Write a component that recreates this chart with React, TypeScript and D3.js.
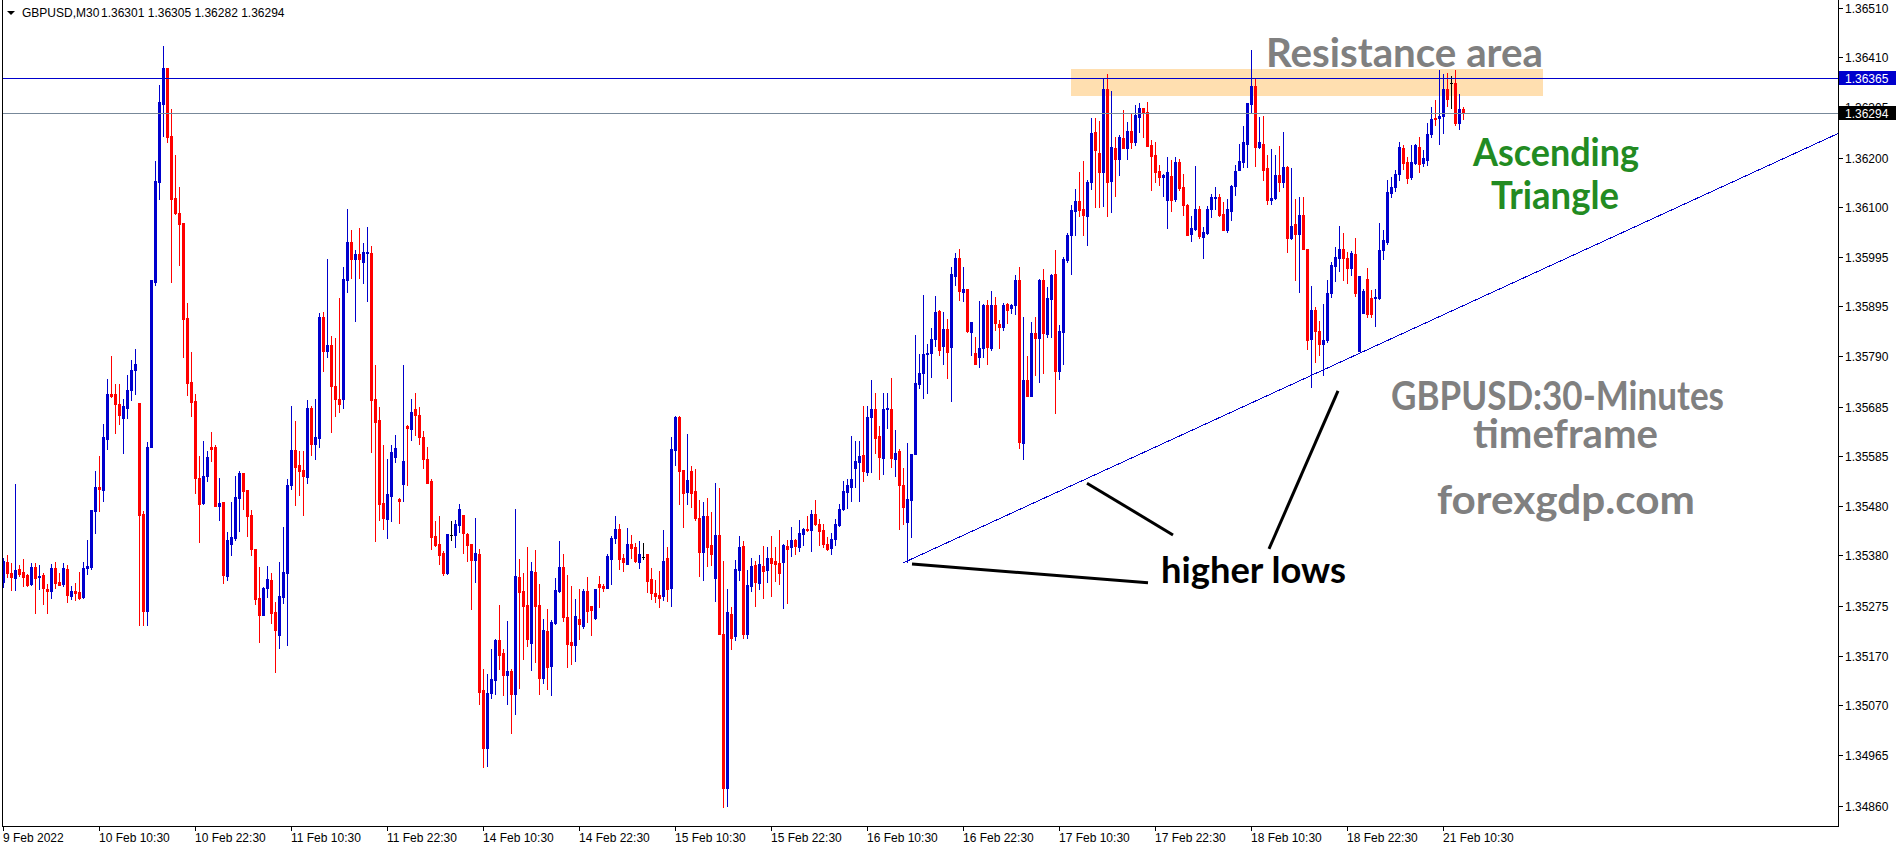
import React from 'react';
import * as d3 from 'd3';

// GBPUSD M30 candles, prices in points (price x 100000), bar 0 = 9 Feb 22:30
const OPEN_PTS = [
  135324,135366,135343,135332,135350,135344,135338,135320,135354,135335,
  135338,135309,135305,135353,135323,135320,135351,135295,135305,135303,
  135293,135353,135354,135471,135520,135514,135620,135712,135712,135692,
  135663,135684,135720,135761,135694,135465,135263,135602,135945,136151,
  136312,136386,136245,136117,136086,136066,135869,135737,135698,135538,
  135487,135542,135602,135602,135481,135489,135336,135403,135414,135497,
  135550,135514,135462,135391,135290,135255,135312,135327,135262,135214,
  135292,135342,135524,135597,135565,135555,135541,135683,135610,135622,
  135871,135801,135814,135729,135703,135703,135949,136026,135992,136002,
  135986,136004,136004,135702,135658,135488,135454,135502,135582,135495,
  135527,135646,135640,135681,135670,135623,135579,135532,135418,135403,
  135383,135342,135421,135421,135442,135462,135422,135403,135369,135381,
  135100,134981,135094,135121,135203,135177,135131,135139,135092,135333,
  135305,135276,135198,135345,135276,135125,135222,135150,135238,135305,
  135355,135252,135200,135194,135248,135233,135305,135274,135249,135320,
  135316,135312,135371,135415,135433,135374,135360,135403,135395,135365,
  135376,135381,135330,135301,135296,135295,135374,135312,135597,135664,
  135555,135510,135553,135512,135457,135386,135460,135400,135331,135420,
  135216,134898,135258,135212,135349,135398,135217,135316,135358,135322,
  135356,135348,135374,135367,135362,135365,135398,135396,135410,135396,
  135422,135434,135431,135464,135444,135431,135402,135393,135413,135441,
  135474,135510,135520,135560,135572,135586,135551,135664,135682,135625,
  135580,135682,135682,135579,135595,135524,135448,135494,135588,135734,
  135755,135795,135797,135827,135884,135811,135846,135810,135957,135994,
  135923,135929,135841,135798,135788,135808,135896,135808,135897,135858,
  135850,135899,135890,135896,135949,135612,135741,135708,135839,135828,
  135949,135837,135908,135961,135759,135841,135990,136042,136091,136111,
  136094,136081,136151,136254,136211,136172,136343,136152,136221,136198,
  136242,136221,136256,136234,136285,136303,136296,136227,136206,136173,
  136161,136113,136163,136115,136192,136141,136104,136043,136053,136094,
  136037,136045,136094,136118,136120,136084,136051,136091,136143,136175,
  136192,136230,136313,136349,136223,136230,136180,136114,136118,136165,
  136151,136182,136034,136063,136044,136082,136013,135826,135887,135843,
  135815,135824,135921,135977,135994,136013,135994,135972,136001,135802,
  135880,135951,135910,135910,135910,136011,136027,136128,136141,136168,
  136222,136192,136161,136190,136223,136190,136197,136251,136284,136284,
  136287,136344,136356,136356,136272,136301,
];
const HIGH_PTS = [
  135373,135379,135362,135526,135358,135371,135340,135362,135362,135358,
  135343,135320,135361,135365,135343,135362,135358,135316,135321,135344,
  135366,135410,135473,135553,135584,135651,135743,135792,135734,135733,
  135702,135752,135782,135805,135694,135471,135614,135948,136195,136352,
  136433,136386,136301,136207,136140,136066,135901,135800,135712,135584,
  135616,135594,135633,135606,135539,135489,135428,135489,135542,135553,
  135550,135514,135472,135391,135355,135314,135357,135342,135282,135365,
  135438,135537,135688,135656,135594,135594,135699,135688,135703,135879,
  135881,135992,135832,135828,135911,135976,136094,136052,136010,136055,
  136024,136057,136018,135772,135686,135607,135578,135607,135628,135498,
  135772,135648,135703,135714,135686,135635,135602,135537,135450,135460,
  135387,135422,135450,135452,135484,135462,135424,135403,135456,135392,
  135144,135134,135185,135205,135276,135185,135243,135143,135474,135371,
  135342,135396,135365,135389,135319,135247,135267,135245,135331,135409,
  135381,135338,135316,135288,135310,135309,135334,135274,135309,135336,
  135320,135381,135418,135460,135444,135381,135436,135420,135405,135409,
  135405,135381,135353,135327,135346,135431,135396,135624,135667,135667,
  135555,135629,135563,135557,135493,135489,135498,135469,135529,135518,
  135367,135309,135272,135369,135418,135408,135348,135374,135367,135379,
  135398,135396,135419,135396,135431,135402,135410,135438,135413,135451,
  135436,135460,135472,135493,135453,135443,135417,135425,135453,135484,
  135532,135536,135626,135615,135615,135687,135687,135741,135715,135646,
  135715,135715,135746,135637,135598,135560,135612,135588,135834,135795,
  135917,135815,135848,135915,135887,135881,135867,135975,136003,136012,
  135975,135930,135861,135830,135904,135898,135906,135925,135913,135865,
  135901,135901,135899,135959,135974,135872,135790,135861,135872,135951,
  135970,135934,135961,136010,135855,135996,136045,136104,136137,136172,
  136194,136154,136283,136283,136276,136365,136374,136340,136244,136247,
  136299,136275,136294,136309,136314,136304,136316,136237,136234,136185,
  136168,136203,136196,136203,136199,136168,136106,136081,136183,136101,
  136058,136101,136125,136141,136127,136110,136116,136144,136185,136229,
  136266,136314,136423,136366,136285,136287,136206,136219,136206,136225,
  136254,136183,136179,136116,136120,136120,136013,135935,135892,135864,
  135898,135948,135986,136017,136059,136045,136006,136008,136034,135956,
  135930,135972,135928,135930,136065,136052,136154,136161,136176,136234,
  136227,136203,136227,136230,136244,136216,136273,136306,136321,136382,
  136375,136376,136371,136382,136332,136305,
];
const LOW_PTS = [
  135313,135334,135308,135308,135336,135316,135316,135317,135260,135309,
  135279,135260,135291,135312,135317,135316,135283,135289,135287,135289,
  135291,135340,135350,135424,135471,135492,135598,135706,135631,135651,
  135590,135663,135700,135712,135234,135234,135234,135602,135937,136116,
  136245,136234,135945,136084,135980,135788,135711,135667,135508,135407,
  135485,135532,135573,135481,135451,135322,135328,135379,135410,135430,
  135475,135418,135379,135278,135199,135255,135292,135238,135138,135187,
  135280,135193,135515,135483,135503,135462,135529,135586,135577,135602,
  135760,135789,135634,135667,135676,135684,135923,135953,135863,135953,
  135942,135905,135593,135408,135452,135433,135415,135450,135571,135446,
  135491,135524,135618,135628,135608,135559,135528,135392,135399,135361,
  135339,135341,135411,135396,135426,135383,135367,135268,135324,135072,
  134942,134944,135083,135093,135143,135089,135071,135012,135050,135105,
  135164,135192,135141,135158,135092,135114,135102,135089,135236,135303,
  135243,135148,135155,135161,135205,135229,135241,135215,135248,135272,
  135305,135312,135319,135405,135350,135347,135360,135374,135364,135353,
  135372,135303,135289,135283,135272,135287,135285,135274,135566,135484,
  135438,135484,135478,135451,135336,135327,135357,135358,135285,135216,
  134859,134861,135186,135203,135327,135207,135207,135305,135274,135310,
  135291,135324,135295,135326,135320,135270,135280,135378,135382,135387,
  135400,135429,135388,135441,135400,135395,135389,135381,135400,135440,
  135472,135477,135491,135520,135491,135533,135544,135551,135591,135536,
  135546,135643,135562,135543,135433,135443,135364,135416,135588,135725,
  135704,135715,135748,135811,135793,135775,135746,135697,135937,135906,
  135905,135841,135793,135774,135768,135789,135775,135803,135844,135808,
  135844,135859,135879,135877,135600,135577,135708,135708,135751,135737,
  135755,135830,135830,135673,135743,135775,135986,135961,136042,136080,
  136041,136020,136137,136099,136099,136101,136081,136089,136122,136165,
  136221,136199,136221,136227,136254,136244,136225,136134,136151,136144,
  136121,136056,136090,136111,136135,136082,136042,136028,136051,136034,
  135994,136044,136079,136094,136080,136051,136048,136072,136123,136175,
  136182,136182,136294,136183,136222,136154,136105,136106,136116,136132,
  136141,136006,136032,135948,135923,136013,135806,135727,135779,135793,
  135751,135820,135913,135946,135966,135949,135941,135958,135915,135802,
  135879,135872,135872,135853,135908,135992,136023,136120,136132,136154,
  136177,136149,136158,136189,136172,136183,136185,136244,136268,136230,
  136252,136307,136303,136268,136261,136282,
];
const CLOSE_PTS = [
  135367,135343,135335,135348,135340,135335,135317,135354,135332,135336,
  135312,135305,135353,135321,135317,135353,135297,135305,135301,135291,
  135353,135357,135473,135520,135516,135624,135712,135708,135692,135670,
  135688,135720,135763,135774,135463,135263,135602,135948,136152,136316,
  136386,136244,136115,136086,136064,135868,135735,135696,135538,135485,
  135542,135582,135598,135481,135487,135338,135410,135416,135500,135550,
  135512,135460,135391,135288,135255,135312,135329,135260,135225,135294,
  135345,135524,135597,135562,135553,135543,135683,135610,135623,135871,
  135801,135813,135729,135702,135691,135950,136026,135992,136002,135992,
  136006,136006,135699,135654,135484,135456,135506,135593,135600,135492,
  135574,135642,135676,135669,135623,135578,135529,135417,135400,135379,
  135342,135422,135421,135444,135474,135424,135400,135369,135383,135096,
  134981,135094,135123,135203,135172,135131,135139,135092,135336,135303,
  135274,135205,135346,135274,135125,135224,135148,135241,135307,135355,
  135252,135196,135194,135253,135236,135305,135263,135265,135309,135314,
  135312,135377,135415,135433,135371,135365,135403,135394,135367,135381,
  135376,135326,135301,135295,135291,135367,135310,135598,135665,135553,
  135508,135534,135508,135455,135386,135460,135396,135382,135420,135217,
  134897,135262,135208,135350,135395,135217,135317,135356,135324,135360,
  135347,135374,135363,135360,135342,135400,135391,135410,135398,135424,
  135433,135431,135464,135443,135429,135402,135391,135413,135443,135474,
  135511,135524,135536,135573,135584,135553,135665,135682,135622,135582,
  135682,135684,135580,135591,135524,135479,135495,135588,135736,135755,
  135796,135797,135827,135881,135803,135846,135799,135960,135994,135925,
  135929,135842,135861,135775,135808,135896,135810,135897,135860,135850,
  135897,135887,135897,135949,135613,135741,135708,135839,135828,135949,
  135839,135910,135959,135759,135842,135992,136042,136092,136111,136092,
  136082,136151,136252,136216,136172,136343,136151,136223,136198,136244,
  136221,136256,136234,136289,136303,136294,136225,136205,136172,136161,
  136165,136172,136113,136192,136139,136103,136042,136056,136094,136039,
  136048,136094,136120,136120,136082,136051,136094,136143,136173,136194,
  136234,136314,136349,136223,136234,136175,136114,136118,136165,136151,
  136181,136036,136060,136044,136082,136013,135825,135887,135843,135815,
  135825,135922,135979,135996,136013,135994,135972,136005,135921,135956,
  135926,135877,135877,135913,136011,136030,136130,136141,136168,136223,
  136190,136159,136192,136227,136189,136201,136251,136282,136281,136288,
  136344,136323,136356,136272,136301,136294,
];

const SYMBOL = 'GBPUSD,M30';
const X_TICK_BARS = [0, 24, 48, 72, 96, 120, 144, 168, 192, 216, 240, 264, 288, 312, 336, 360];
const X_TICK_LABELS = [
  '9 Feb 2022', '10 Feb 10:30', '10 Feb 22:30', '11 Feb 10:30', '11 Feb 22:30',
  '14 Feb 10:30', '14 Feb 22:30', '15 Feb 10:30', '15 Feb 22:30', '16 Feb 10:30',
  '16 Feb 22:30', '17 Feb 10:30', '17 Feb 22:30', '18 Feb 10:30', '18 Feb 22:30',
  '21 Feb 10:30',
];
const Y_TICKS = [
  1.3651, 1.3641, 1.36305, 1.362, 1.361, 1.35995, 1.35895, 1.3579, 1.35685,
  1.35585, 1.3548, 1.3538, 1.35275, 1.3517, 1.3507, 1.34965, 1.3486,
];
const RESISTANCE_LEVEL = 1.36365;
const ZONE_BARS = [267, 385];
const ZONE_PRICES = [1.36328, 1.36384];
const TREND_BARS = [225, 459];
const TREND_PRICES = [1.35363, 1.36252];
const POINTER_BARS = [[227.25, 286.25], [271, 292.5], [333.75, 316.5]];
const POINTER_PRICES = [[1.35361, 1.35322], [1.35528, 1.35421], [1.35719, 1.35392]];

// layout
const W = 1902;
const H = 850;
const PLOT_LEFT = 2;
const PLOT_RIGHT = 1838;
const PLOT_BOTTOM = 826;
const X_SLOTS = 459;
const BAR_STEP = 4;

const BULL = '#0000CD';
const BEAR = '#FF0000';
const AXIS_FONT = "'Liberation Sans', Arial, sans-serif";
const NOTE_FONT = "Lato, 'Liberation Sans', sans-serif";

const toPrice = (v: number) => v / 100000;

export default function App() {
  const x = d3.scaleLinear().domain([0, X_SLOTS]).range([PLOT_LEFT + 1, PLOT_LEFT + 1 + X_SLOTS * BAR_STEP]);
  const y = d3.scaleLinear().domain([Y_TICKS[Y_TICKS.length - 1], Y_TICKS[0]]).range([806.2, 8.3]);
  const row = (p: number) => Math.round(y(p));

  const candles = OPEN_PTS.map((o, i) => {
    const O = toPrice(o);
    const Hh = toPrice(HIGH_PTS[i]);
    const L = toPrice(LOW_PTS[i]);
    const C = toPrice(CLOSE_PTS[i]);
    const col = Math.round(x(i));
    const color = C > O ? BULL : C < O ? BEAR : '#000000';
    const yh = row(Hh);
    const yl = row(L);
    const yt = row(Math.max(O, C));
    const yb = row(Math.min(O, C));
    return (
      <g key={i} fill={color}>
        <rect x={col} y={yh} width={1} height={Math.max(1, yl - yh + 1)} />
        <rect x={col - 1} y={yt} width={3} height={Math.max(1, yb - yt + 1)} />
      </g>
    );
  });

  const last = OPEN_PTS.length - 1;
  const lastClose = toPrice(CLOSE_PTS[last]);
  const headerValues = [OPEN_PTS[last], HIGH_PTS[last], LOW_PTS[last], CLOSE_PTS[last]]
    .map((v) => toPrice(v).toFixed(5))
    .join(' ');

  const resRow = row(RESISTANCE_LEVEL);
  const bidRow = row(lastClose);

  const zoneX0 = x(ZONE_BARS[0]);
  const zoneX1 = x(ZONE_BARS[1]);
  const zoneY0 = row(ZONE_PRICES[1]);
  const zoneY1 = row(ZONE_PRICES[0]);

  const trendLine = d3.line<[number, number]>()
    .x((d) => x(d[0]))
    .y((d) => y(d[1]));
  const trendPts: [number, number][] = [
    [TREND_BARS[0], TREND_PRICES[0]],
    [TREND_BARS[1], TREND_PRICES[1]],
  ];

  return (
    <svg
      width={W}
      height={H}
      viewBox={`0 0 ${W} ${H}`}
      style={{ position: 'absolute', left: 0, top: 0, background: '#ffffff' }}
    >
      <defs>
        <clipPath id="plotClip">
          <rect x={PLOT_LEFT} y={0} width={PLOT_RIGHT - PLOT_LEFT} height={PLOT_BOTTOM} />
        </clipPath>
      </defs>
      <rect x={0} y={0} width={W} height={H} fill="#ffffff" />

      <g clipPath="url(#plotClip)">
        {/* resistance zone */}
        <rect x={zoneX0} y={zoneY0} width={zoneX1 - zoneX0} height={zoneY1 - zoneY0} fill="#FFDFB0" />

        <g shapeRendering="crispEdges">{candles}</g>

        {/* horizontal lines */}
        <rect x={PLOT_LEFT} y={resRow} width={PLOT_RIGHT - PLOT_LEFT} height={1} fill={BULL} shapeRendering="crispEdges" />
        <rect x={PLOT_LEFT} y={bidRow} width={PLOT_RIGHT - PLOT_LEFT} height={1} fill="#778899" shapeRendering="crispEdges" />

        {/* trend line */}
        <path d={trendLine(trendPts) || ''} stroke={BULL} strokeWidth={1} fill="none" shapeRendering="crispEdges" />

        {/* pointer lines */}
        {POINTER_BARS.map((b, k) => (
          <line
            key={k}
            x1={x(b[0])}
            y1={y(POINTER_PRICES[k][0])}
            x2={x(b[1])}
            y2={y(POINTER_PRICES[k][1])}
            stroke="#000000"
            strokeWidth={3}
          />
        ))}
      </g>

      {/* annotations */}
      <g fontFamily={NOTE_FONT} fontWeight={700}>
        <text x={1266} y={67} fontSize={41} fill="#808080" textLength={277} lengthAdjust="spacingAndGlyphs">Resistance area</text>
        <text x={1473} y={166} fontSize={39} fill="#228B22" textLength={166} lengthAdjust="spacingAndGlyphs">Ascending</text>
        <text x={1491} y={209} fontSize={39} fill="#228B22" textLength={128} lengthAdjust="spacingAndGlyphs">Triangle</text>
        <text x={1391} y={410} fontSize={40} fill="#808080" textLength={333} lengthAdjust="spacingAndGlyphs">GBPUSD:30-Minutes</text>
        <text x={1473} y={448} fontSize={40} fill="#808080" textLength={185} lengthAdjust="spacingAndGlyphs">timeframe</text>
        <text x={1437} y={514} fontSize={40} fill="#808080" textLength={258} lengthAdjust="spacingAndGlyphs">forexgdp.com</text>
        <text x={1161} y={583} fontSize={37} fill="#000000" textLength={185} lengthAdjust="spacingAndGlyphs">higher lows</text>
      </g>

      {/* frame and axes */}
      <g shapeRendering="crispEdges" fill="#000000">
        <rect x={PLOT_LEFT} y={0} width={1} height={PLOT_BOTTOM + 1} />
        <rect x={PLOT_RIGHT} y={0} width={1} height={PLOT_BOTTOM + 1} />
        <rect x={PLOT_LEFT} y={PLOT_BOTTOM} width={PLOT_RIGHT - PLOT_LEFT + 1} height={1} />
        {Y_TICKS.map((t) => (
          <rect key={t} x={PLOT_RIGHT} y={row(t)} width={5} height={1} />
        ))}
        {X_TICK_BARS.map((b) => (
          <rect key={b} x={Math.round(x(b))} y={PLOT_BOTTOM} width={1} height={5} />
        ))}
      </g>

      <g fontFamily={AXIS_FONT} fontSize={12} fill="#000000">
        {Y_TICKS.map((t) => (
          <text key={t} x={1845} y={row(t) + 4.5}>{t.toFixed(5)}</text>
        ))}
        {X_TICK_BARS.map((b, k) => (
          <text key={b} x={Math.round(x(b))} y={842}>{X_TICK_LABELS[k]}</text>
        ))}
      </g>

      {/* price labels */}
      <g fontFamily={AXIS_FONT} fontSize={12}>
        <rect x={1839} y={resRow - 7} width={57} height={14} fill={BULL} shapeRendering="crispEdges" />
        <text x={1845} y={resRow + 4.5} fill="#ffffff">{RESISTANCE_LEVEL.toFixed(5)}</text>
        <rect x={1839} y={bidRow - 7} width={57} height={14} fill="#000000" shapeRendering="crispEdges" />
        <text x={1845} y={bidRow + 4.5} fill="#ffffff">{lastClose.toFixed(5)}</text>
      </g>

      {/* header */}
      <polygon points="7,11 15,11 11,15" fill="#000000" />
      <g fontFamily={AXIS_FONT} fontSize={12} fill="#000000">
        <text x={22} y={17}>{SYMBOL}</text>
        <text x={101} y={17}>{headerValues}</text>
      </g>
    </svg>
  );
}
